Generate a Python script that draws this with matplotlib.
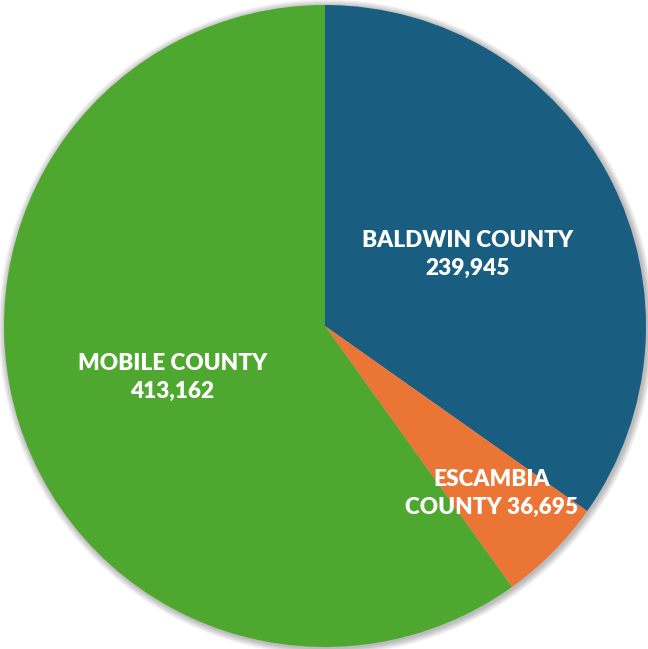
import numpy as np
import matplotlib
matplotlib.use("Agg")
import matplotlib.pyplot as plt
from matplotlib.patches import Circle

counties = ["BALDWIN COUNTY", "ESCAMBIA COUNTY", "MOBILE COUNTY"]
population = [239945, 36695, 413162]
colors = ["#195E80", "#EA7535", "#4EA72E"]
label_lines = [
    ["BALDWIN COUNTY", "239,945"],
    ["ESCAMBIA", "COUNTY 36,695"],
    ["MOBILE COUNTY", "413,162"],
]
label_radius = [0.5, 0.73, 0.5]

W, H = 648, 649
fig = plt.figure(figsize=(W / 100, H / 100), dpi=100)
ax = fig.add_axes([0, 0, 1, 1])
R = 321.0
cx, cy = 325.0, H - 326.0

# soft drop shadow around the disc
for i in range(14):
    r = 1.0 + (14 - i) * 0.0016
    ax.add_patch(Circle((0.004, -0.004), r, facecolor="#000000",
                        alpha=0.018, edgecolor="none", zorder=0))

wedges, _ = ax.pie(population, colors=colors, startangle=90, counterclock=False,
                   radius=1.0, center=(0, 0), frame=True,
                   wedgeprops=dict(edgecolor="none", linewidth=0))
ax.set_xlim(-cx / R, (W - cx) / R)
ax.set_ylim(-cy / R, (H - cy) / R)
ax.set_aspect("equal")
ax.axis("off")

for w, lines, lr in zip(wedges, label_lines, label_radius):
    ang = np.deg2rad((w.theta1 + w.theta2) / 2)
    x, y = lr * np.cos(ang), lr * np.sin(ang)
    ax.text(x, y - 0.008, "\n".join(lines), ha="center", va="center", color="white",
            fontsize=16.3, fontweight="heavy", family="Lato", linespacing=1.42)

fig.savefig("out.png", dpi=100)
